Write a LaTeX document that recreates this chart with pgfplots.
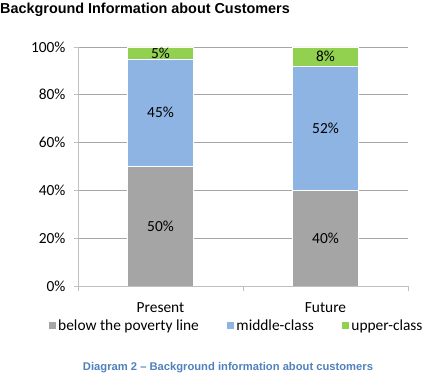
\documentclass[border=0pt]{standalone}
\usepackage{fontspec}
\setmainfont{Carlito}
\newfontfamily\arial{Liberation Sans}
\usepackage{pgfplots}
\pgfplotsset{compat=1.18}
\definecolor{cgray}{HTML}{A5A5A5}
\definecolor{cblue}{HTML}{8EB4E3}
\definecolor{cgreen}{HTML}{92D050}
\definecolor{capblue}{HTML}{4F81BD}
\definecolor{gridc}{HTML}{A6A6A6}
\definecolor{axisc}{HTML}{BFBFBF}
\begin{document}
\begin{tikzpicture}
\useasboundingbox (0pt,0pt) rectangle (423pt,374pt);
\node[anchor=base west, inner sep=0pt, font=\arial\bfseries\fontsize{14.4}{16}\selectfont] at (0pt,360pt) {Background Information about Customers};
\begin{axis}[
  at={(78pt,88pt)}, anchor=south west,
  scale only axis, width=330pt, height=239pt,
  ybar stacked, bar width=66pt,
  xmin=-0.5, xmax=1.5, ymin=0, ymax=100,
  axis x line*=bottom, axis y line*=left,
  axis line style={axisc, line width=0.8pt},
  ymajorgrids, grid style={gridc, line width=0.6pt},
  ytick={0,20,40,60,80,100},
  yticklabel={\pgfmathprintnumber{\tick}\%},
  /pgf/number format/assume math mode=true,
  tick align=outside, major tick length=4pt,
  ytick style={axisc, line width=0.8pt},
  xtick={0,1}, xticklabels={Present,Future},
  xtick style={draw=none},
  extra x ticks={-0.5,0.5,1.5}, extra x tick labels={},
  extra x tick style={xtick style={axisc, line width=0.8pt, draw=axisc}, major tick length=5pt},
  ticklabel style={font=\fontsize{15.4}{17}\selectfont},
  yticklabel style={xshift=-5pt},
  xticklabel style={yshift=-9pt},
  legend columns=3,
  legend style={at={(0.479,-0.165)}, anchor=center, draw=none, fill=none,
    font=\fontsize{15.4}{17}\selectfont,
    /tikz/every even column/.append style={column sep=25pt}},
  legend image code/.code={\fill[#1] (0pt,-4pt) rectangle (8pt,4pt);},
]
\addplot[fill=cgray, draw=white, line width=0.6pt] coordinates {(0,50) (1,40)};
\addplot[fill=cblue, draw=white, line width=0.6pt] coordinates {(0,45) (1,52)};
\addplot[fill=cgreen, draw=white, line width=0.6pt] coordinates {(0,5) (1,8)};
\legend{below the poverty line, middle-class, upper-class}
\end{axis}
\begin{axis}[
  at={(78pt,88pt)}, anchor=south west,
  scale only axis, width=330pt, height=239pt,
  xmin=-0.5, xmax=1.5, ymin=0, ymax=100, hide axis,
]
\addplot[draw=none, mark=none, nodes near coords={\pgfplotspointmeta\%}, point meta=explicit symbolic,
  every node near coord/.append style={anchor=center, font=\fontsize{15.4}{17}\selectfont, text=black}]
  coordinates {(0,25)[50] (0,72.5)[45] (0,97.5)[5] (1,20)[40] (1,66)[52] (1,96)[8]};
\end{axis}
\node[anchor=base, inner sep=0pt, text=capblue, font=\arial\bfseries\fontsize{11.2}{13}\selectfont] at (228pt,3pt) {Diagram 2 – Background information about customers};
\end{tikzpicture}
\end{document}
